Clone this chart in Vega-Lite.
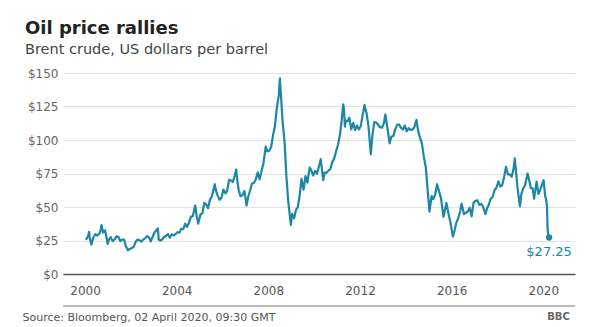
{
  "$schema": "https://vega.github.io/schema/vega-lite/v6.json",
  "width": 512,
  "height": 201,
  "autosize": {"type": "none"},
  "padding": {"left": 63, "top": 73, "right": 27, "bottom": 53},
  "background": "white",
  "config": {"view": {"stroke": null}, "font": "DejaVu Sans"},
  "title": {
    "text": "Oil price rallies",
    "subtitle": "Brent crude, US dollars per barrel",
    "anchor": "start",
    "frame": "group",
    "dx": -38,
    "offset": 11,
    "fontSize": 18,
    "fontWeight": "bold",
    "color": "#222222",
    "subtitleFontSize": 14.5,
    "subtitleColor": "#444444",
    "subtitlePadding": 5,
    "font": "DejaVu Sans",
    "subtitleFont": "DejaVu Sans"
  },
  "data": {"values": [
    {"d":"2000-01-15","p":25.5},{"d":"2000-02-15","p":27.8},{"d":"2000-03-07","p":31.5},{"d":"2000-03-15","p":27.5},{"d":"2000-04-10","p":22.0},{"d":"2000-04-20","p":23.5},{"d":"2000-05-15","p":27.6},{"d":"2000-06-15","p":29.8},{"d":"2000-07-15","p":28.7},{"d":"2000-08-15","p":30.0},{"d":"2000-09-08","p":33.1},{"d":"2000-09-20","p":36.5},{"d":"2000-10-15","p":30.9},{"d":"2000-11-15","p":32.6},{"d":"2000-12-15","p":25.5},{"d":"2000-12-27","p":22.5},
    {"d":"2001-01-15","p":25.6},{"d":"2001-02-15","p":27.5},{"d":"2001-03-15","p":24.5},{"d":"2001-04-15","p":25.6},{"d":"2001-05-15","p":28.1},{"d":"2001-06-15","p":27.8},{"d":"2001-07-15","p":24.6},{"d":"2001-08-15","p":25.7},{"d":"2001-09-15","p":25.6},{"d":"2001-10-15","p":20.5},{"d":"2001-11-16","p":17.7},{"d":"2001-12-15","p":18.7},
    {"d":"2002-01-15","p":19.4},{"d":"2002-02-15","p":20.3},{"d":"2002-03-15","p":23.7},{"d":"2002-04-15","p":25.7},{"d":"2002-05-15","p":25.4},{"d":"2002-06-15","p":24.1},{"d":"2002-07-15","p":25.7},{"d":"2002-08-15","p":26.6},{"d":"2002-09-15","p":28.3},{"d":"2002-10-15","p":27.5},{"d":"2002-11-15","p":24.3},{"d":"2002-12-15","p":28.0},
    {"d":"2003-01-15","p":31.2},{"d":"2003-02-15","p":32.8},{"d":"2003-03-07","p":34.0},{"d":"2003-03-21","p":25.5},{"d":"2003-04-15","p":25.0},{"d":"2003-05-15","p":25.8},{"d":"2003-06-15","p":27.6},{"d":"2003-07-15","p":28.4},{"d":"2003-08-15","p":29.8},{"d":"2003-09-15","p":27.1},{"d":"2003-10-15","p":29.6},{"d":"2003-11-15","p":28.8},{"d":"2003-12-15","p":29.8},
    {"d":"2004-01-15","p":31.2},{"d":"2004-02-15","p":30.9},{"d":"2004-03-15","p":33.8},{"d":"2004-04-15","p":33.4},{"d":"2004-05-15","p":37.6},{"d":"2004-06-15","p":35.2},{"d":"2004-07-15","p":38.2},{"d":"2004-08-15","p":42.7},{"d":"2004-09-15","p":43.2},{"d":"2004-10-15","p":49.8},{"d":"2004-10-22","p":51.0},{"d":"2004-11-15","p":43.1},{"d":"2004-12-10","p":37.5},{"d":"2004-12-20","p":40.0},
    {"d":"2005-01-15","p":44.5},{"d":"2005-02-15","p":45.5},{"d":"2005-03-15","p":53.1},{"d":"2005-04-15","p":51.9},{"d":"2005-05-15","p":49.0},{"d":"2005-06-15","p":55.6},{"d":"2005-07-15","p":57.9},{"d":"2005-08-15","p":63.9},{"d":"2005-08-30","p":67.0},{"d":"2005-09-15","p":62.8},{"d":"2005-10-15","p":58.5},{"d":"2005-11-15","p":55.4},{"d":"2005-12-15","p":56.9},
    {"d":"2006-01-15","p":63.0},{"d":"2006-02-15","p":60.2},{"d":"2006-03-15","p":62.1},{"d":"2006-04-15","p":70.3},{"d":"2006-05-15","p":69.8},{"d":"2006-06-15","p":68.6},{"d":"2006-07-15","p":73.7},{"d":"2006-08-07","p":78.0},{"d":"2006-08-15","p":73.2},{"d":"2006-09-15","p":62.5},{"d":"2006-10-15","p":58.0},{"d":"2006-11-15","p":58.7},{"d":"2006-12-15","p":62.0},
    {"d":"2007-01-08","p":55.0},{"d":"2007-01-18","p":51.0},{"d":"2007-02-15","p":57.8},{"d":"2007-03-15","p":62.1},{"d":"2007-04-15","p":67.5},{"d":"2007-05-15","p":67.9},{"d":"2007-06-15","p":70.6},{"d":"2007-07-15","p":75.8},{"d":"2007-08-15","p":70.8},{"d":"2007-09-15","p":77.0},{"d":"2007-10-15","p":82.5},{"d":"2007-11-20","p":95.0},{"d":"2007-12-15","p":91.5},
    {"d":"2008-01-15","p":92.0},{"d":"2008-02-15","p":94.8},{"d":"2008-03-15","p":103.3},{"d":"2008-04-15","p":110.2},{"d":"2008-05-15","p":123.9},{"d":"2008-06-15","p":133.1},{"d":"2008-07-03","p":146.0},{"d":"2008-07-18","p":135.0},{"d":"2008-08-15","p":113.9},{"d":"2008-09-15","p":99.1},{"d":"2008-10-15","p":72.8},{"d":"2008-11-15","p":53.2},{"d":"2008-12-10","p":43.0},{"d":"2008-12-24","p":36.6},
    {"d":"2009-01-15","p":44.9},{"d":"2009-02-15","p":41.5},{"d":"2009-03-15","p":47.7},{"d":"2009-04-15","p":49.9},{"d":"2009-05-15","p":58.8},{"d":"2009-06-12","p":71.0},{"d":"2009-07-15","p":63.0},{"d":"2009-08-15","p":73.1},{"d":"2009-09-15","p":68.2},{"d":"2009-10-21","p":79.5},{"d":"2009-11-15","p":77.5},{"d":"2009-12-15","p":73.5},
    {"d":"2010-01-15","p":77.0},{"d":"2010-02-15","p":74.8},{"d":"2010-03-15","p":79.9},{"d":"2010-04-15","p":85.7},{"d":"2010-05-25","p":70.0},{"d":"2010-06-15","p":75.7},{"d":"2010-07-15","p":75.5},{"d":"2010-08-15","p":77.1},{"d":"2010-09-15","p":78.2},{"d":"2010-10-15","p":83.5},{"d":"2010-11-15","p":86.1},{"d":"2010-12-15","p":91.4},
    {"d":"2011-01-15","p":96.5},{"d":"2011-02-15","p":103.7},{"d":"2011-03-15","p":114.6},{"d":"2011-04-08","p":126.6},{"d":"2011-04-20","p":123.3},{"d":"2011-05-06","p":110.0},{"d":"2011-05-20","p":114.5},{"d":"2011-06-15","p":113.9},{"d":"2011-07-15","p":116.7},{"d":"2011-08-15","p":108.0},{"d":"2011-09-15","p":112.8},{"d":"2011-10-15","p":107.5},{"d":"2011-11-15","p":110.8},{"d":"2011-12-15","p":107.9},
    {"d":"2012-01-15","p":110.7},{"d":"2012-02-15","p":119.3},{"d":"2012-03-13","p":126.2},{"d":"2012-04-15","p":119.8},{"d":"2012-05-15","p":110.3},{"d":"2012-06-22","p":89.5},{"d":"2012-07-15","p":102.6},{"d":"2012-08-15","p":113.4},{"d":"2012-09-15","p":113.0},{"d":"2012-10-15","p":111.5},{"d":"2012-11-15","p":109.5},{"d":"2012-12-15","p":109.2},
    {"d":"2013-01-15","p":112.3},{"d":"2013-02-08","p":119.0},{"d":"2013-03-15","p":108.5},{"d":"2013-04-17","p":97.5},{"d":"2013-05-15","p":102.6},{"d":"2013-06-15","p":102.9},{"d":"2013-07-15","p":107.9},{"d":"2013-08-15","p":111.3},{"d":"2013-09-15","p":111.6},{"d":"2013-10-15","p":109.1},{"d":"2013-11-15","p":107.8},{"d":"2013-12-15","p":110.8},
    {"d":"2014-01-15","p":106.5},{"d":"2014-02-15","p":108.9},{"d":"2014-03-15","p":107.5},{"d":"2014-04-15","p":107.8},{"d":"2014-05-15","p":109.5},{"d":"2014-06-19","p":115.0},{"d":"2014-07-15","p":106.8},{"d":"2014-08-15","p":101.6},{"d":"2014-09-15","p":97.1},{"d":"2014-10-15","p":87.4},{"d":"2014-11-15","p":79.4},{"d":"2014-12-15","p":62.3},
    {"d":"2015-01-13","p":46.6},{"d":"2015-02-15","p":58.1},{"d":"2015-03-15","p":55.9},{"d":"2015-04-15","p":59.5},{"d":"2015-05-13","p":67.0},{"d":"2015-06-15","p":61.5},{"d":"2015-07-15","p":56.6},{"d":"2015-08-24","p":42.7},{"d":"2015-09-15","p":47.6},{"d":"2015-10-09","p":53.0},{"d":"2015-11-15","p":44.3},{"d":"2015-12-15","p":38.0},
    {"d":"2016-01-20","p":27.9},{"d":"2016-02-15","p":32.2},{"d":"2016-03-15","p":38.2},{"d":"2016-04-15","p":41.6},{"d":"2016-05-15","p":46.7},{"d":"2016-06-08","p":52.5},{"d":"2016-07-15","p":44.7},{"d":"2016-08-15","p":45.7},{"d":"2016-09-15","p":46.6},{"d":"2016-10-15","p":49.5},{"d":"2016-11-14","p":43.0},{"d":"2016-12-15","p":53.3},
    {"d":"2017-01-15","p":54.6},{"d":"2017-02-15","p":54.9},{"d":"2017-03-15","p":51.6},{"d":"2017-04-15","p":52.3},{"d":"2017-05-15","p":50.3},{"d":"2017-06-21","p":44.8},{"d":"2017-07-15","p":48.5},{"d":"2017-08-15","p":51.7},{"d":"2017-09-15","p":56.2},{"d":"2017-10-15","p":57.5},{"d":"2017-11-15","p":62.7},{"d":"2017-12-15","p":64.4},
    {"d":"2018-01-15","p":69.1},{"d":"2018-02-15","p":65.3},{"d":"2018-03-15","p":66.0},{"d":"2018-04-15","p":72.1},{"d":"2018-05-17","p":80.0},{"d":"2018-06-15","p":74.4},{"d":"2018-07-15","p":74.3},{"d":"2018-08-15","p":72.5},{"d":"2018-09-15","p":78.9},{"d":"2018-10-03","p":86.3},{"d":"2018-11-15","p":64.8},{"d":"2018-12-24","p":50.5},
    {"d":"2019-01-15","p":59.4},{"d":"2019-02-15","p":64.0},{"d":"2019-03-15","p":66.1},{"d":"2019-04-25","p":75.0},{"d":"2019-05-15","p":71.3},{"d":"2019-06-15","p":64.2},{"d":"2019-07-15","p":63.9},{"d":"2019-08-07","p":56.2},{"d":"2019-09-16","p":69.0},{"d":"2019-10-15","p":59.7},{"d":"2019-11-15","p":63.2},{"d":"2019-12-15","p":67.3},
    {"d":"2020-01-06","p":70.0},{"d":"2020-01-31","p":58.0},{"d":"2020-02-15","p":55.7},{"d":"2020-02-28","p":50.5},{"d":"2020-03-09","p":34.4},{"d":"2020-03-18","p":28.7},{"d":"2020-04-02","p":27.25}
  ]},
  "encoding": {
    "x": {
      "field": "d", "type": "temporal",
      "scale": {"domain": [{"year": 1999, "month": 1, "date": 15}, {"year": 2021, "month": 5, "date": 20}]},
      "axis": {
        "values": [{"year": 2000}, {"year": 2004}, {"year": 2008}, {"year": 2012}, {"year": 2016}, {"year": 2020}],
        "format": "%Y",
        "grid": false, "ticks": false,
        "domain": true, "domainColor": "#555555", "domainWidth": 1.5,
        "labelPadding": 11, "labelFontSize": 12, "labelColor": "#555555", "labelFont": "DejaVu Sans",
        "title": "Source: Bloomberg, 02 April 2020, 09:30 GMT",
        "titleAnchor": "start", "titleAlign": "left", "titleBaseline": "middle",
        "titleX": -41, "titleY": 43,
        "titleFontSize": 11, "titleFontWeight": "normal", "titleColor": "#555555", "titleFont": "DejaVu Sans"
      }
    },
    "y": {
      "field": "p", "type": "quantitative",
      "scale": {"domain": [0, 150], "nice": false},
      "axis": {
        "values": [0, 25, 50, 75, 100, 125, 150],
        "labelExpr": "'$' + datum.value",
        "grid": true, "gridColor": "#e2e2e2", "gridWidth": 1,
        "domain": false, "ticks": false,
        "labelPadding": 5, "labelFontSize": 12, "labelColor": "#666666", "labelFont": "DejaVu Sans",
        "title": "BBC",
        "titleAngle": 0, "titleAlign": "center", "titleBaseline": "middle",
        "titleX": 495, "titleY": 243,
        "titleFontSize": 10, "titleFontWeight": "bold", "titleColor": "#666666", "titleFont": "DejaVu Sans"
      }
    }
  },
  "layer": [
    {
      "mark": {"type": "rule", "color": "#bbbbbb", "strokeWidth": 1, "clip": false},
      "encoding": {"y": {"datum": -24}, "x": null}
    },
    {"mark": {"type": "line", "color": "#1b87a6", "strokeWidth": 2.2, "strokeJoin": "round"}},
    {
      "transform": [{"filter": "datum.p == 27.25"}],
      "mark": {"type": "point", "filled": true, "color": "#1b87a6", "size": 40, "opacity": 1}
    },
    {
      "transform": [{"filter": "datum.p == 27.25"}],
      "mark": {"type": "text", "color": "#1b87a6", "fontSize": 13, "dy": 15, "align": "center", "font": "DejaVu Sans"},
      "encoding": {"text": {"field": "p", "type": "quantitative", "format": "$.2f"}}
    }
  ]
}
